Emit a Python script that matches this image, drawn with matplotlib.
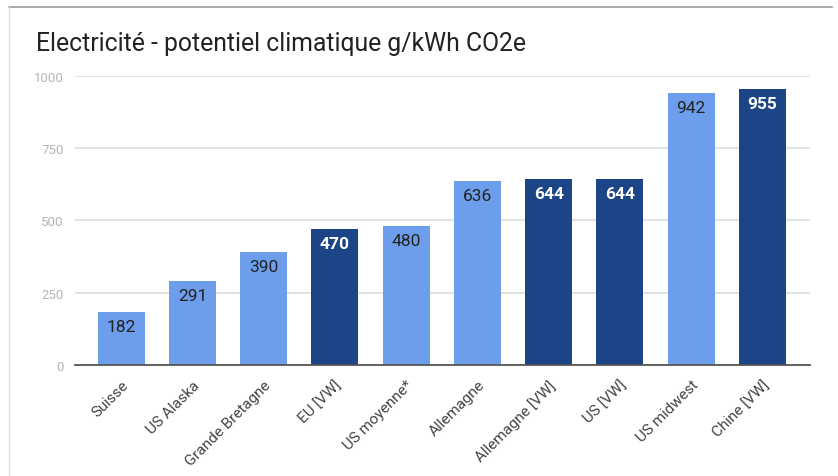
import matplotlib
matplotlib.use("Agg")
import matplotlib.pyplot as plt
from matplotlib.lines import Line2D

categories = ["Suisse", "US Alaska", "Grande Bretagne", "EU [VW]", "US moyenne*",
              "Allemagne", "Allemagne [VW]", "US [VW]", "US midwest", "Chine [VW]"]
values = [182, 291, 390, 470, 480, 636, 644, 644, 942, 955]
vw_source = [False, False, False, True, False, False, True, True, False, True]
y_ticks = [0, 250, 500, 750, 1000]

LIGHT = "#6d9eeb"
DARK = "#1c4587"

plt.rcParams["font.family"] = ["Roboto", "DejaVu Sans"]

fig = plt.figure(figsize=(8.38, 4.77), dpi=100)
fig.patch.set_facecolor("white")
ax = fig.add_axes([0.0895, 0.2327, 0.8771, 0.6059])

colors = [DARK if v else LIGHT for v in vw_source]
x = list(range(len(categories)))
ax.bar(x, values, width=0.66, color=colors, zorder=3)

for xi, v, vw in zip(x, values, vw_source):
    ax.annotate(str(v), (xi, v), xytext=(0, -5), textcoords="offset points",
                ha="center", va="top", fontsize=12.5,
                color="white" if vw else "#222222",
                fontweight="bold" if vw else "normal", zorder=4)

ax.set_xlim(-0.65, 9.67)
ax.set_ylim(0, 1000)
ax.set_yticks(y_ticks)
ax.set_yticklabels([str(t) for t in y_ticks], fontsize=9.5, color="#b5b5b5")
ax.yaxis.grid(True, color="#dddddd", linewidth=1.2, zorder=0)
ax.set_axisbelow(True)
ax.set_xticks(x)
ax.set_xticklabels(categories, rotation=45, ha="right", rotation_mode="anchor",
                   fontsize=11, color="#444444")
ax.tick_params(axis="both", length=0, pad=8)
ax.tick_params(axis="x", pad=9)
for side in ["top", "right", "left"]:
    ax.spines[side].set_visible(False)
ax.spines["bottom"].set_color("#555555")
ax.spines["bottom"].set_linewidth(1.3)
ax.spines["bottom"].set_zorder(5)

fig.text(36 / 838, 1 - 44 / 477, "Electricité - potentiel climatique g/kWh CO2e",
         fontsize=17.8, color="#222222", va="center", ha="left")

# outer frame edges
fig.add_artist(Line2D([9 / 838, 832 / 838], [1 - 8 / 477, 1 - 8 / 477],
                      transform=fig.transFigure, color="#999999", linewidth=1.2))
fig.add_artist(Line2D([9 / 838, 9 / 838], [1 - 8 / 477, 0],
                      transform=fig.transFigure, color="#e0e0e0", linewidth=1.0))

fig.savefig("out.png", dpi=100, facecolor="white")
